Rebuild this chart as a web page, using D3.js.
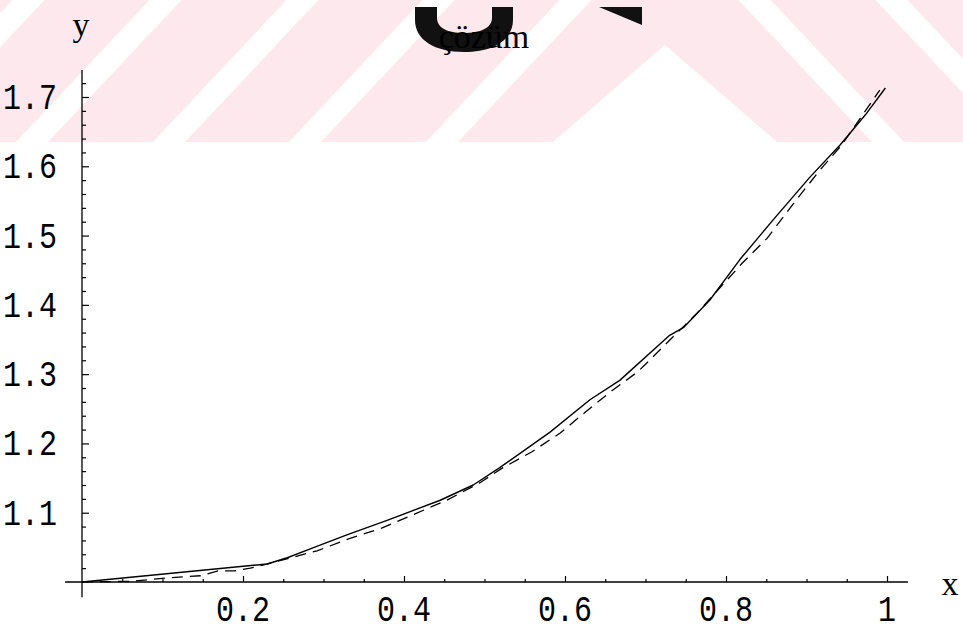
<!DOCTYPE html>
<html>
<head>
<meta charset="utf-8">
<script src="https://cdn.jsdelivr.net/npm/d3@7"></script>
<style>
  html, body { margin: 0; padding: 0; background: #fff; }
  svg { display: block; }
  text { font-family: "Liberation Mono", "DejaVu Sans Mono", monospace; fill: #000; }
  text.serif { font-family: "Liberation Serif", "DejaVu Serif", serif; }
</style>
</head>
<body>
<svg></svg>
<script>
// values
const xTicks = [0.2, 0.4, 0.6, 0.8, 1];
const yTicks = [1.1, 1.2, 1.3, 1.4, 1.5, 1.6, 1.7];
const xTickLabels = ["0.2", "0.4", "0.6", "0.8", "1"];
const yTickLabels = ["1.1", "1.2", "1.3", "1.4", "1.5", "1.6", "1.7"];

// solid curve
const solidX = [0, 0.230, 0.255, 0.286, 0.329, 0.379, 0.445, 0.486, 0.519, 0.581, 0.631, 0.668, 0.730, 0.747, 0.780, 0.817, 0.858, 0.904, 0.942, 0.975, 0.998];
const solidY = [1.000, 1.026, 1.035, 1.049, 1.068, 1.089, 1.118, 1.140, 1.165, 1.216, 1.263, 1.291, 1.356, 1.367, 1.407, 1.465, 1.522, 1.584, 1.631, 1.677, 1.713];

// dashed curve
const dashX = [0, 0.060, 0.107, 0.147, 0.169, 0.190, 0.209, 0.227, 0.292, 0.333, 0.373, 0.411, 0.453, 0.494, 0.523, 0.559, 0.594, 0.625, 0.656, 0.691, 0.764, 0.820, 0.851, 0.889, 0.917, 0.944, 0.991];
const dashY = [1.000, 1.001, 1.006, 1.009, 1.016, 1.016, 1.020, 1.025, 1.045, 1.063, 1.078, 1.097, 1.118, 1.143, 1.165, 1.188, 1.215, 1.245, 1.274, 1.304, 1.388, 1.460, 1.496, 1.554, 1.595, 1.631, 1.710];

const title = "çözüm";

const svgWidth = 963;
const svgHeight = 632;

const svg = d3.select('svg')
  .attr('width', svgWidth)
  .attr('height', svgHeight);

// ---- watermark band at the top ----
const pink = "#fde9ed";
const band = 142;
const slope = 0.94;
const wm = svg.append('g');
wm.append('rect')
  .attr('x', 0).attr('y', 0)
  .attr('width', svgWidth).attr('height', band)
  .attr('fill', pink);

const white = "#fff";
// "/" stripes on the left
[-121, 16, 153, 289, 426].forEach((x0) => {
  wm.append('polygon')
    .attr('points', [[x0, band], [x0 + 32, band], [x0 + 32 + band * slope, 0], [x0 + band * slope, 0]].join(' '))
    .attr('fill', white);
});
// the peak
wm.append('polygon')
  .attr('points', [[553, band], [665, 45], [777, band]].join(' '))
  .attr('fill', white);
// "\" stripes on the right
[872, 1009].forEach((x0) => {
  wm.append('polygon')
    .attr('points', [[x0, band], [x0 + 32, band], [x0 + 32 - band * slope, 0], [x0 - band * slope, 0]].join(' '))
    .attr('fill', white);
});

// black parts of the logo
wm.append('path')
  .attr('d', 'M415,7 L415,20 C415,40 435,52 464,52 C493,52 513,40 513,20 L513,7 L492,7 L492,18 C492,28 480,33 464,33 C448,33 437,28 437,18 L437,7 Z')
  .attr('fill', '#111');
wm.append('polygon')
  .attr('points', '599,7 642,7 642,25')
  .attr('fill', '#111');

// ---- scales ----
const xScale = d3.scaleLinear().domain([0, 1]).range([82, 887]);
const yScale = d3.scaleLinear().domain([1, 1.7]).range([582, 97]);

const g = svg.append('g');

// axis lines
g.append('line')
  .attr('x1', xScale(-0.021)).attr('x2', xScale(1.026))
  .attr('y1', yScale(1)).attr('y2', yScale(1))
  .attr('stroke', '#000').attr('stroke-width', 1.3);
g.append('line')
  .attr('x1', xScale(0)).attr('x2', xScale(0))
  .attr('y1', yScale(0.978)).attr('y2', yScale(1.739))
  .attr('stroke', '#000').attr('stroke-width', 1.3);

// ticks (inward, Mathematica style)
const xMinor = d3.range(1, 21).map((i) => i * 0.05).filter((v) => Math.round(v * 20) % 4 !== 0);
const yMinor = d3.range(1, 37).map((i) => 1 + i * 0.02).filter((v) => Math.round((v - 1) * 50) % 5 !== 0);

g.append('g')
  .attr('transform', 'translate(0,' + yScale(1) + ')')
  .call(d3.axisBottom(xScale).tickValues(xTicks).tickSize(-6).tickFormat(''))
  .call((s) => s.select('.domain').remove());
g.append('g')
  .attr('transform', 'translate(0,' + yScale(1) + ')')
  .call(d3.axisBottom(xScale).tickValues(xMinor).tickSize(-3).tickFormat(''))
  .call((s) => s.select('.domain').remove());
g.append('g')
  .attr('transform', 'translate(' + xScale(0) + ',0)')
  .call(d3.axisLeft(yScale).tickValues(yTicks).tickSize(-7).tickFormat(''))
  .call((s) => s.select('.domain').remove());
g.append('g')
  .attr('transform', 'translate(' + xScale(0) + ',0)')
  .call(d3.axisLeft(yScale).tickValues(yMinor).tickSize(-4).tickFormat(''))
  .call((s) => s.select('.domain').remove());
g.selectAll('.tick line').attr('stroke', '#000').attr('stroke-width', 1.2);

// tick labels (tall, narrow courier look)
const fontSize = 30;
const stretch = 1.25;
g.selectAll('.xlab')
  .data(xTicks)
  .enter().append('text')
  .attr('class', 'xlab')
  .attr('transform', (d) => 'translate(' + xScale(d) + ',' + 621 + ') scale(1,' + stretch + ')')
  .attr('text-anchor', 'middle')
  .style('font-size', fontSize + 'px')
  .text((d, i) => xTickLabels[i]);

g.selectAll('.ylab')
  .data(yTicks)
  .enter().append('text')
  .attr('class', 'ylab')
  .attr('transform', (d) => 'translate(' + 57 + ',' + (yScale(d) + 12) + ') scale(1,' + stretch + ')')
  .attr('text-anchor', 'end')
  .style('font-size', fontSize + 'px')
  .text((d, i) => yTickLabels[i]);

// axis labels and title
g.append('text')
  .attr('class', 'serif')
  .attr('x', 81).attr('y', 36)
  .attr('text-anchor', 'middle')
  .style('font-size', '34px')
  .text('y');
g.append('text')
  .attr('class', 'serif')
  .attr('x', 950).attr('y', 595)
  .attr('text-anchor', 'middle')
  .style('font-size', '34px')
  .text('x');
g.append('text')
  .attr('class', 'serif')
  .attr('x', 484).attr('y', 48)
  .attr('text-anchor', 'middle')
  .style('font-size', '34px')
  .text(title);

// ---- curves ----
const line = d3.line()
  .x((d) => xScale(d[0]))
  .y((d) => yScale(d[1]));

g.append('path')
  .datum(dashX.map((v, i) => [v, dashY[i]]))
  .attr('fill', 'none')
  .attr('stroke', '#000')
  .attr('stroke-width', 1.3)
  .attr('stroke-dasharray', '11,7')
  .attr('d', line);

g.append('path')
  .datum(solidX.map((v, i) => [v, solidY[i]]))
  .attr('fill', 'none')
  .attr('stroke', '#000')
  .attr('stroke-width', 1.4)
  .attr('stroke-linejoin', 'round')
  .attr('d', line);
</script>
</body>
</html>
